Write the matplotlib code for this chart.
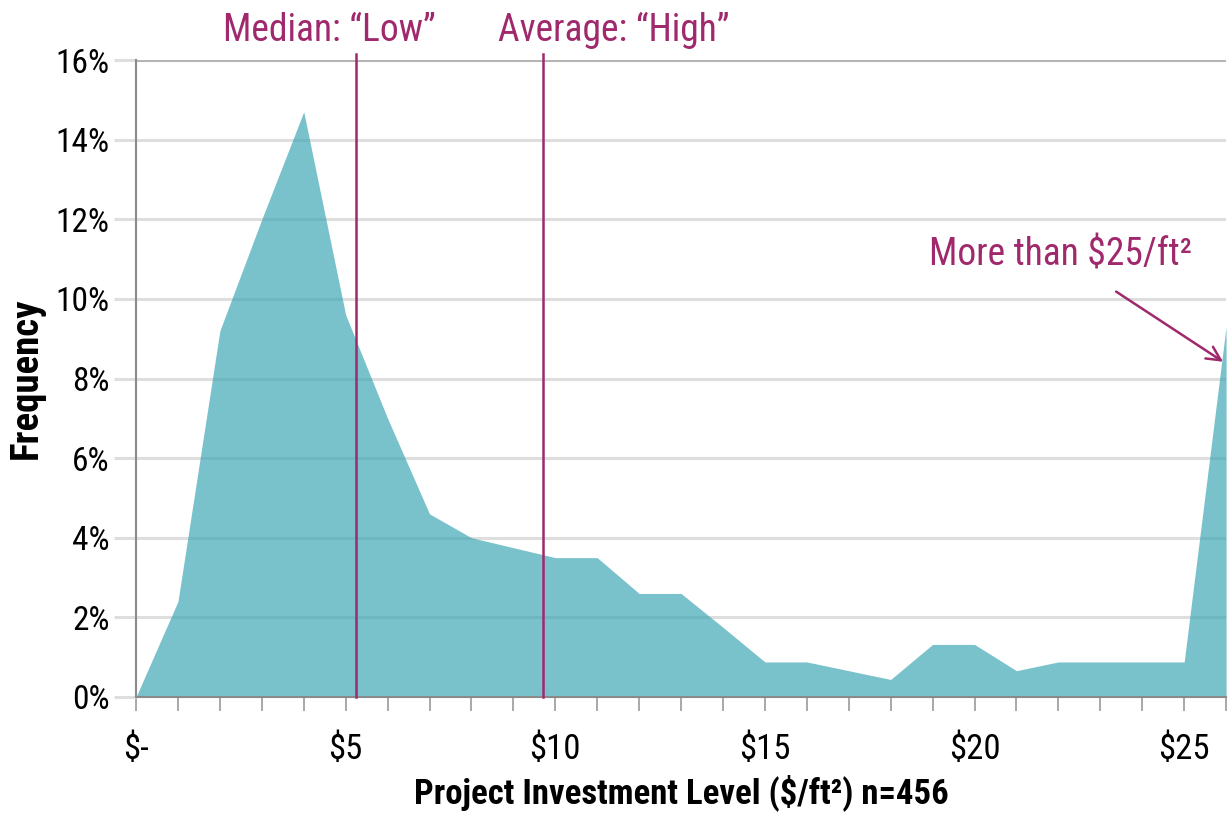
import matplotlib.pyplot as plt
from matplotlib import font_manager

# Data (frequency in % per $/ft2 bin)
investment = list(range(0, 27))
frequency = [0.0, 2.4, 9.2, 12.0, 14.7, 9.6, 7.0, 4.6, 4.0, 3.75, 3.5, 3.5,
             2.6, 2.6, 1.75, 0.88, 0.88, 0.66, 0.44, 1.32, 1.32, 0.66, 0.88,
             0.88, 0.88, 0.88, 9.3]
median_value = 5.25
average_value = 9.7
x_ticks = [0, 5, 10, 15, 20, 25]
x_tick_labels = ["$-", "$5", "$10", "$15", "$20", "$25"]
y_ticks = [0, 2, 4, 6, 8, 10, 12, 14, 16]

# pick a condensed face if one is around
names = {f.name for f in font_manager.fontManager.ttflist}
font = "Liberation Sans"
for cand in ["Roboto Condensed", "Archivo Narrow", "PT Sans Narrow",
             "Liberation Sans Narrow"]:
    if cand in names:
        font = cand
        break
plt.rcParams["font.family"] = [font, "DejaVu Sans"]

ACCENT = "#a0286c"
GRID = "#dedede"

fig = plt.figure(figsize=(12.31, 8.19), dpi=100)
ax = fig.add_axes([0.1105, 0.149, 0.8855, 0.7777])

for y in y_ticks:
    ax.axhline(y, color=GRID if y < 16 else "#b5b5b5", lw=2.2, zorder=0)

ax.fill_between(investment, frequency, 0, color="#3aa5b3", alpha=0.68, lw=0, zorder=2)

for v in (median_value, average_value):
    ax.axvline(v, ymin=0, ymax=1.01, color=ACCENT, lw=1.8, zorder=3, clip_on=False)

ax.text(4.6, 16.75, "Median: \u201cLow\u201d", color=ACCENT, fontsize=27,
        ha="center", va="center")
ax.text(11.4, 16.75, "Average: \u201cHigh\u201d", color=ACCENT, fontsize=27,
        ha="center", va="center")

ax.annotate("More than $25/ft\u00b2", xy=(25.93, 8.42), xytext=(22.05, 11.1),
            color=ACCENT, fontsize=27, ha="center", va="center",
            arrowprops=dict(arrowstyle="->", color=ACCENT, lw=1.8,
                            mutation_scale=25, shrinkA=20, shrinkB=0))

ax.set_xlim(0, 26)
ax.set_ylim(0, 16)
ax.set_xticks(x_ticks)
ax.set_xticklabels(x_tick_labels)
ax.set_xticks(investment, minor=True)
ax.set_yticks(y_ticks)
ax.set_yticklabels([f"{v}%" for v in y_ticks])

ax.tick_params(axis="x", which="both", direction="out", length=10, width=1.2,
               color="#999999", labelsize=25, pad=16)
ax.tick_params(axis="y", direction="out", length=16, width=2.2, color=GRID,
               labelsize=24, pad=3)

for side in ("top", "right"):
    ax.spines[side].set_visible(False)
for side in ("left", "bottom"):
    ax.spines[side].set_color("#8a8a8a")
    ax.spines[side].set_linewidth(1.5)

ax.set_xlabel("Project Investment Level ($/ft\u00b2) n=456", fontsize=25,
              fontweight="bold", labelpad=6)
ax.set_ylabel("Frequency", fontsize=28, fontweight="bold", labelpad=8)

fig.savefig("out.png", dpi=100)
